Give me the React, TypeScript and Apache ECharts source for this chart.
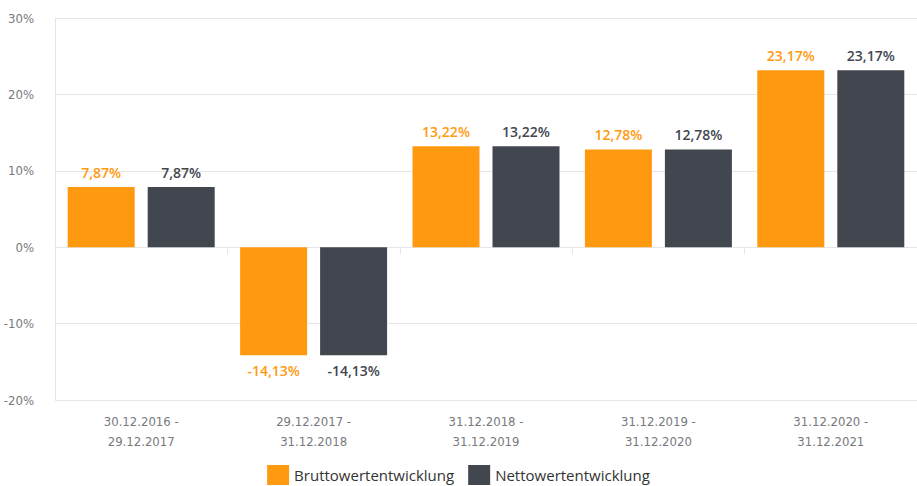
import React, { useEffect, useRef } from "react";
import * as echarts from "echarts";

const categories = [
  "30.12.2016 -\n29.12.2017",
  "29.12.2017 -\n31.12.2018",
  "31.12.2018 -\n31.12.2019",
  "31.12.2019 -\n31.12.2020",
  "31.12.2020 -\n31.12.2021",
];
const bruttoValues = [7.87, -14.13, 13.22, 12.78, 23.17];
const nettoValues = [7.87, -14.13, 13.22, 12.78, 23.17];
const seriesNames = ["Bruttowertentwicklung", "Nettowertentwicklung"];

const ORANGE = "#ff9a10";
const DARK = "#42474f";
const condensed = "'Liberation Sans Narrow', 'DejaVu Sans Condensed', 'Open Sans', sans-serif";
const sans = "'Open Sans', 'Noto Sans', sans-serif";

const fmt = (v: number) => v.toFixed(2).replace(".", ",") + "%";

export default function App() {
  const ref = useRef<HTMLDivElement>(null);
  useEffect(() => {
    document.body.style.margin = "0";
    const chart = echarts.init(ref.current!, undefined, { renderer: "svg" });
    const mkLabel = (color: string) => ({
      show: true,
      distance: 8,
      color,
      fontFamily: sans,
      fontSize: 14,
      fontWeight: 600,
      formatter: (p: any) => fmt(p.value),
    });
    const mkData = (vals: number[], color: string) =>
      vals.map((v) => ({
        value: v,
        label: { ...mkLabel(color), position: v < 0 ? "bottom" : "top" },
      }));
    chart.setOption({
      animation: false,
      grid: { left: 55, top: 18, height: 382, width: 870 },
      legend: {
        data: seriesNames,
        left: "center",
        top: 460,
        icon: "rect",
        itemWidth: 22,
        itemHeight: 20,
        itemGap: 14,
        textStyle: { fontFamily: sans, fontSize: 15, color: "#333", lineHeight: 18 },
      },
      xAxis: {
        type: "category",
        data: categories,
        axisLine: { show: true, lineStyle: { color: "#e6e6e6" } },
        axisTick: { show: true, length: 7, lineStyle: { color: "#e6e6e6" } },
        axisLabel: {
          margin: 11,
          lineHeight: 20,
          fontFamily: condensed,
          fontSize: 13,
          color: "#77797d",
        },
      },
      yAxis: {
        type: "value",
        min: -20,
        max: 30,
        interval: 10,
        axisLine: { show: true, lineStyle: { color: "#e6e6e6" } },
        axisTick: { show: false },
        splitLine: { lineStyle: { color: "#e6e6e6" } },
        axisLabel: {
          margin: 21,
          fontFamily: condensed,
          fontSize: 13,
          color: "#77797d",
          formatter: (v: number) => v + "%",
        },
      },
      series: [
        {
          name: seriesNames[0],
          type: "bar",
          data: mkData(bruttoValues, ORANGE),
          itemStyle: { color: ORANGE },
          barWidth: 67,
          barGap: "19.4%",
        },
        {
          name: seriesNames[1],
          type: "bar",
          data: mkData(nettoValues, DARK),
          itemStyle: { color: DARK },
          barWidth: 67,
          barGap: "19.4%",
        },
      ],
    });
    return () => chart.dispose();
  }, []);
  return <div ref={ref} style={{ width: 917, height: 486 }} />;
}
